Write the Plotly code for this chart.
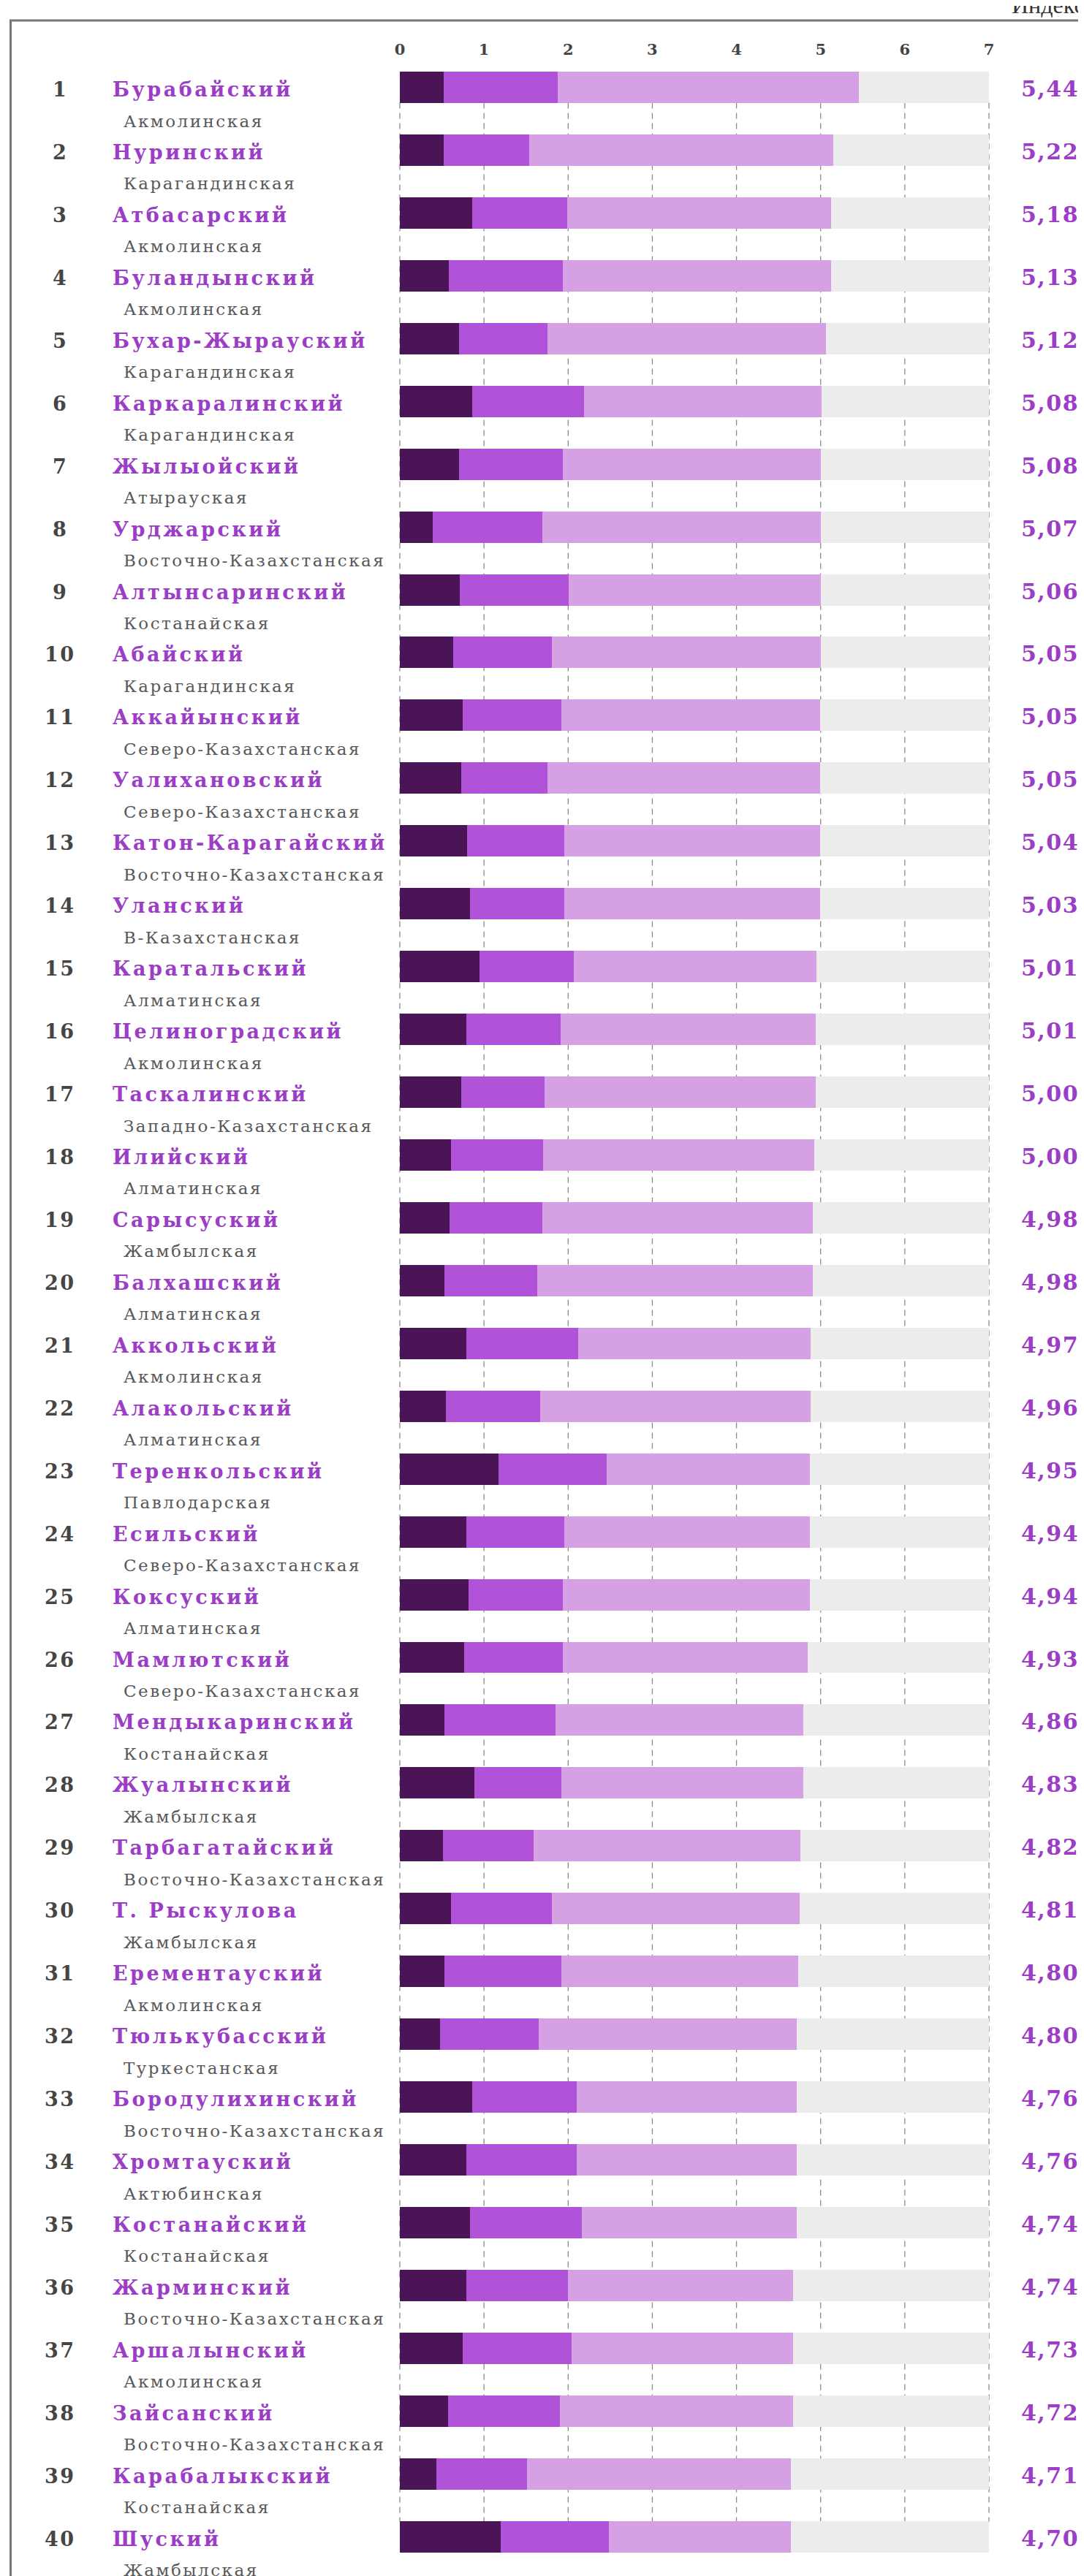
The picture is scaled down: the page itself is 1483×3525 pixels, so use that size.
import plotly.graph_objects as go

# ---------------- data ----------------
ranks = [str(i) for i in range(1, 41)]

districts = [
    "Бурабайский", "Нуринский", "Атбасарский", "Буландынский", "Бухар-Жырауский",
    "Каркаралинский", "Жылыойский", "Урджарский", "Алтынсаринский", "Абайский",
    "Аккайынский", "Уалихановский", "Катон-Карагайский", "Уланский", "Каратальский",
    "Целиноградский", "Таскалинский", "Илийский", "Сарысуский", "Балхашский",
    "Аккольский", "Алакольский", "Теренкольский", "Есильский", "Коксуский",
    "Мамлютский", "Мендыкаринский", "Жуалынский", "Тарбагатайский", "Т. Рыскулова",
    "Ерементауский", "Тюлькубасский", "Бородулихинский", "Хромтауский", "Костанайский",
    "Жарминский", "Аршалынский", "Зайсанский", "Карабалыкский", "Шуский",
]

regions = [
    "Акмолинская", "Карагандинская", "Акмолинская", "Акмолинская", "Карагандинская",
    "Карагандинская", "Атырауская", "Восточно-Казахстанская", "Костанайская", "Карагандинская",
    "Северо-Казахстанская", "Северо-Казахстанская", "Восточно-Казахстанская", "В-Казахстанская", "Алматинская",
    "Акмолинская", "Западно-Казахстанская", "Алматинская", "Жамбылская", "Алматинская",
    "Акмолинская", "Алматинская", "Павлодарская", "Северо-Казахстанская", "Алматинская",
    "Северо-Казахстанская", "Костанайская", "Жамбылская", "Восточно-Казахстанская", "Жамбылская",
    "Акмолинская", "Туркестанская", "Восточно-Казахстанская", "Актюбинская", "Костанайская",
    "Восточно-Казахстанская", "Акмолинская", "Восточно-Казахстанская", "Костанайская", "Жамбылская",
]

index_labels = [
    "5,44", "5,22", "5,18", "5,13", "5,12", "5,08", "5,08", "5,07", "5,06", "5,05",
    "5,05", "5,05", "5,04", "5,03", "5,01", "5,01", "5,00", "5,00", "4,98", "4,98",
    "4,97", "4,96", "4,95", "4,94", "4,94", "4,93", "4,86", "4,83", "4,82", "4,81",
    "4,80", "4,80", "4,76", "4,76", "4,74", "4,74", "4,73", "4,72", "4,71", "4,70",
]

# segment widths
dark = [
    0.52, 0.52, 0.86, 0.58, 0.70, 0.86, 0.70, 0.39, 0.71, 0.63,
    0.75, 0.73, 0.80, 0.83, 0.95, 0.79, 0.73, 0.61, 0.59, 0.53,
    0.79, 0.55, 1.17, 0.79, 0.82, 0.76, 0.53, 0.89, 0.51, 0.61,
    0.53, 0.48, 0.86, 0.79, 0.83, 0.79, 0.75, 0.57, 0.43, 1.20,
]
mid = [
    1.36, 1.02, 1.13, 1.36, 1.05, 1.33, 1.24, 1.30, 1.30, 1.18,
    1.17, 1.02, 1.15, 1.12, 1.12, 1.12, 0.99, 1.09, 1.10, 1.10,
    1.33, 1.12, 1.29, 1.16, 1.12, 1.18, 1.32, 1.03, 1.08, 1.20,
    1.39, 1.17, 1.24, 1.31, 1.33, 1.21, 1.29, 1.33, 1.08, 1.28,
]
light = [
    3.57, 3.61, 3.13, 3.18, 3.31, 2.82, 3.06, 3.31, 2.99, 3.19,
    3.07, 3.24, 3.04, 3.04, 2.88, 3.03, 3.22, 3.22, 3.22, 3.28,
    2.76, 3.21, 2.41, 2.92, 2.93, 2.91, 2.94, 2.87, 3.17, 2.94,
    2.81, 3.07, 2.62, 2.62, 2.56, 2.67, 2.63, 2.77, 3.14, 2.17,
]

tick_vals = [0, 1, 2, 3, 4, 5, 6, 7]
tick_text = ["0", "1", "2", "3", "4", "5", "6", "7"]
SCALE_MAX = 7
header = "Индекс"

# ---------------- layout geometry ----------------
W, H = 1483, 3525
X0_PX, XMAX_PX = 539.0, 1345.0
PX_PER_UNIT = (XMAX_PX - X0_PX) / SCALE_MAX
ROW0_PX = 111.5
ROW_PITCH = 85.94
TOP = 72


def xpx(p):
    return (p - X0_PX) / PX_PER_UNIT


def dy(p):
    return p / ROW_PITCH


def paper_y(p):
    return (H - p) / (H - TOP)


def spaced(txt, px):
    return '<span style="letter-spacing:%.1fpx">%s</span>' % (px, txt)


n = len(districts)
rows = list(range(n))
rest = [SCALE_MAX - (d + m + l) for d, m, l in zip(dark, mid, light)]

C_DARK = "#4a1457"
C_MID = "#b053d8"
C_LIGHT = "#d5a0e4"
C_REST = "#ececec"
C_PURPLE = "#9b3dc6"

fig = go.Figure()
for vals, color in [(dark, C_DARK), (mid, C_MID), (light, C_LIGHT), (rest, C_REST)]:
    fig.add_trace(go.Bar(
        x=vals, y=rows, orientation="h", width=0.5,
        marker=dict(color=color, line=dict(width=0)),
        hoverinfo="skip",
    ))

shapes = []
for t in tick_vals:
    shapes.append(dict(
        type="line", xref="x", yref="y", x0=t, x1=t,
        y0=-0.5 + dy(64), y1=n - 0.5 - dy(64) + dy(0.5),
        line=dict(color="#8a8a8a", width=1.3, dash="8px,6px"),
        layer="below",
    ))
# frame (top + left)
shapes.append(dict(type="line", xref="paper", yref="paper",
                   x0=5 / W, x1=1, y0=paper_y(20), y1=paper_y(20),
                   line=dict(color="#767676", width=3)))
shapes.append(dict(type="line", xref="paper", yref="paper",
                   x0=6.5 / W, x1=6.5 / W, y0=0, y1=paper_y(20),
                   line=dict(color="#767676", width=3)))

ann = []
for i in rows:
    ann.append(dict(x=xpx(74), y=i + dy(3), xref="x", yref="y", text=spaced(ranks[i], 2.5),
                    showarrow=False, xanchor="center", yanchor="middle",
                    font=dict(family="DejaVu Serif", size=27, color="#454545", weight="bold")))
    ann.append(dict(x=xpx(144), y=i + dy(3), xref="x", yref="y", text=spaced(districts[i], 3.5),
                    showarrow=False, xanchor="left", yanchor="middle",
                    font=dict(family="DejaVu Serif", size=27, color=C_PURPLE, weight="bold")))
    ann.append(dict(x=xpx(159), y=i + dy(46), xref="x", yref="y", text=spaced(regions[i], 2.5),
                    showarrow=False, xanchor="left", yanchor="middle",
                    font=dict(family="DejaVu Serif", size=23, color="#585858")))
    ann.append(dict(x=xpx(1428), y=i + dy(2), xref="x", yref="y", text=spaced(index_labels[i], 1.5),
                    showarrow=False, xanchor="center", yanchor="middle",
                    font=dict(family="DejaVu Serif", size=30, color=C_PURPLE, weight="bold")))

ann.append(dict(x=1374 / W, y=paper_y(19), xref="paper", yref="paper", text=header,
                showarrow=False, xanchor="left", yanchor="bottom",
                font=dict(family="Liberation Serif", size=32, color="#333333")))

fig.update_layout(
    width=W, height=H, autosize=False,
    margin=dict(l=0, r=0, t=TOP, b=0, pad=0),
    barmode="stack", showlegend=False,
    plot_bgcolor="white", paper_bgcolor="white",
    xaxis=dict(
        range=[xpx(0), xpx(W)], domain=[0, 1], side="top",
        tickvals=tick_vals, ticktext=tick_text, ticks="",
        tickfont=dict(family="DejaVu Serif", size=21, color="#444444", weight="bold"),
        showgrid=False, zeroline=False, showline=False, fixedrange=True,
    ),
    yaxis=dict(
        range=[(H - ROW0_PX) / ROW_PITCH, (TOP - ROW0_PX) / ROW_PITCH],
        visible=False, fixedrange=True,
    ),
    shapes=shapes, annotations=ann,
)

fig.write_html("out.html")
